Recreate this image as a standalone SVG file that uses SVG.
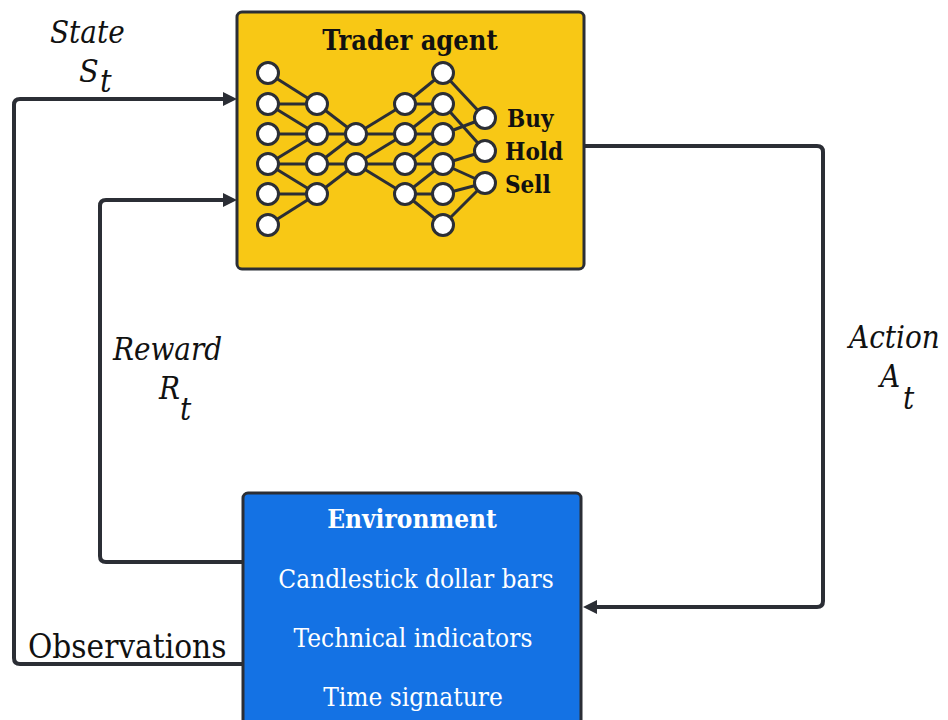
<svg xmlns="http://www.w3.org/2000/svg" width="948" height="720" viewBox="0 0 948 720">
  <style>
    .box { stroke: #2b2e35; stroke-width: 3; }
    .agent { fill: #f8c815; }
    .env { fill: #1472e4; }
    .wire { fill: none; stroke: #2b2e35; stroke-width: 4; stroke-linejoin: round; }
    .syn { stroke: #2b2e35; stroke-width: 3; }
    .neuron { fill: #ffffff; stroke: #2b2e35; stroke-width: 3; }
    .serif { font-family: "DejaVu Serif Condensed", "DejaVu Serif", "Liberation Serif", serif; font-stretch: condensed; }
    .bold { font-weight: bold; }
    .math { font-family: "DejaVu Serif Condensed", "DejaVu Serif", "Liberation Serif", serif; font-stretch: condensed; font-style: italic; fill: #111111; }
    .white { fill: #ffffff; }
    .dark { fill: #111111; }
  </style>
  <defs>
    <marker id="arrow" viewBox="0 0 14 14" refX="6" refY="7" markerWidth="14" markerHeight="14" markerUnits="userSpaceOnUse" orient="auto">
      <path d="M0,0 L14,7 L0,14 z" fill="#2b2e35"/>
    </marker>
  </defs>

  <rect width="948" height="720" fill="#ffffff"/>

  <!-- connectors -->
  <g id="connectors">
    <path id="state-link" class="wire" d="M 243 664 H 20 Q 14 664 14 658 V 105 Q 14 99 20 99 H 229" marker-end="url(#arrow)"/>
    <path id="reward-link" class="wire" d="M 243 562 H 106 Q 100 562 100 556 V 206 Q 100 200 106 200 H 229" marker-end="url(#arrow)"/>
    <path id="action-link" class="wire" d="M 584 146 H 817 Q 823 146 823 152 V 601 Q 823 607 817 607 H 591" marker-end="url(#arrow)"/>
  </g>

  <!-- agent -->
  <g id="trader-agent">
    <rect class="box agent" x="237" y="12" width="347" height="257" rx="5"/>
    <text class="serif bold dark" x="410" y="50" font-size="27" text-anchor="middle">Trader agent</text>
    <g id="synapses" class="syn">
      <line x1="268" y1="73" x2="317" y2="104"/>
      <line x1="268" y1="104" x2="317" y2="104"/>
      <line x1="268" y1="104" x2="317" y2="134"/>
      <line x1="268" y1="134" x2="317" y2="134"/>
      <line x1="268" y1="164" x2="317" y2="134"/>
      <line x1="268" y1="164" x2="317" y2="164"/>
      <line x1="268" y1="164" x2="317" y2="194"/>
      <line x1="268" y1="194" x2="317" y2="194"/>
      <line x1="268" y1="225" x2="317" y2="194"/>

      <line x1="317" y1="104" x2="356" y2="134"/>
      <line x1="317" y1="134" x2="356" y2="134"/>
      <line x1="317" y1="164" x2="356" y2="134"/>
      <line x1="317" y1="164" x2="356" y2="164"/>
      <line x1="317" y1="194" x2="356" y2="164"/>

      <line x1="356" y1="134" x2="405" y2="104"/>
      <line x1="356" y1="134" x2="405" y2="134"/>
      <line x1="356" y1="164" x2="405" y2="134"/>
      <line x1="356" y1="164" x2="405" y2="164"/>
      <line x1="356" y1="164" x2="405" y2="194"/>

      <line x1="405" y1="104" x2="443" y2="73"/>
      <line x1="405" y1="104" x2="443" y2="104"/>
      <line x1="405" y1="134" x2="443" y2="104"/>
      <line x1="405" y1="134" x2="443" y2="134"/>
      <line x1="405" y1="164" x2="443" y2="134"/>
      <line x1="405" y1="164" x2="443" y2="164"/>
      <line x1="405" y1="194" x2="443" y2="164"/>
      <line x1="405" y1="194" x2="443" y2="194"/>
      <line x1="405" y1="194" x2="443" y2="225"/>

      <line x1="443" y1="73" x2="485" y2="118"/>
      <line x1="443" y1="104" x2="485" y2="151"/>
      <line x1="443" y1="134" x2="485" y2="118"/>
      <line x1="443" y1="164" x2="485" y2="151"/>
      <line x1="443" y1="164" x2="485" y2="183"/>
      <line x1="443" y1="194" x2="485" y2="183"/>
      <line x1="443" y1="225" x2="485" y2="183"/>
    </g>
    <g id="neurons" class="neuron">
      <circle cx="268" cy="73" r="10.5"/>
      <circle cx="268" cy="104" r="10.5"/>
      <circle cx="268" cy="134" r="10.5"/>
      <circle cx="268" cy="164" r="10.5"/>
      <circle cx="268" cy="194" r="10.5"/>
      <circle cx="268" cy="225" r="10.5"/>

      <circle cx="317" cy="104" r="10.5"/>
      <circle cx="317" cy="134" r="10.5"/>
      <circle cx="317" cy="164" r="10.5"/>
      <circle cx="317" cy="194" r="10.5"/>

      <circle cx="356" cy="134" r="10.5"/>
      <circle cx="356" cy="164" r="10.5"/>

      <circle cx="405" cy="104" r="10.5"/>
      <circle cx="405" cy="134" r="10.5"/>
      <circle cx="405" cy="164" r="10.5"/>
      <circle cx="405" cy="194" r="10.5"/>

      <circle cx="443" cy="73" r="10.5"/>
      <circle cx="443" cy="104" r="10.5"/>
      <circle cx="443" cy="134" r="10.5"/>
      <circle cx="443" cy="164" r="10.5"/>
      <circle cx="443" cy="194" r="10.5"/>
      <circle cx="443" cy="225" r="10.5"/>

      <circle cx="485" cy="118" r="10.5"/>
      <circle cx="485" cy="151" r="10.5"/>
      <circle cx="485" cy="183" r="10.5"/>
    </g>
    <text class="serif bold dark" x="507" y="127" font-size="24">Buy</text>
    <text class="serif bold dark" x="505" y="160" font-size="24">Hold</text>
    <text class="serif bold dark" x="505" y="193" font-size="24">Sell</text>
  </g>

  <!-- environment -->
  <g id="environment">
    <rect class="box env" x="243" y="493" width="338" height="240" rx="5"/>
    <text class="serif bold white" x="412" y="528" font-size="26" text-anchor="middle">Environment</text>
    <text class="serif white" x="416" y="588" font-size="26" text-anchor="middle">Candlestick dollar bars</text>
    <text class="serif white" x="413" y="647" font-size="26" text-anchor="middle">Technical indicators</text>
    <text class="serif white" x="413" y="706" font-size="26" text-anchor="middle">Time signature</text>
  </g>

  <!-- labels -->
  <g id="labels">
    <text class="serif dark" x="28" y="658" font-size="33">Observations</text>
    <text class="math" x="50" y="43" font-size="31">State</text>
    <text class="math" x="79" y="82" font-size="32">S</text>
    <text class="math" x="100" y="92" font-size="32">t</text>
    <text class="math" x="113" y="360" font-size="31">Reward</text>
    <text class="math" x="159" y="399" font-size="31">R</text>
    <text class="math" x="180" y="420" font-size="31">t</text>
    <text class="math" x="849" y="348" font-size="31">Action</text>
    <text class="math" x="880" y="387" font-size="31">A</text>
    <text class="math" x="903" y="409" font-size="31">t</text>
  </g>
</svg>
